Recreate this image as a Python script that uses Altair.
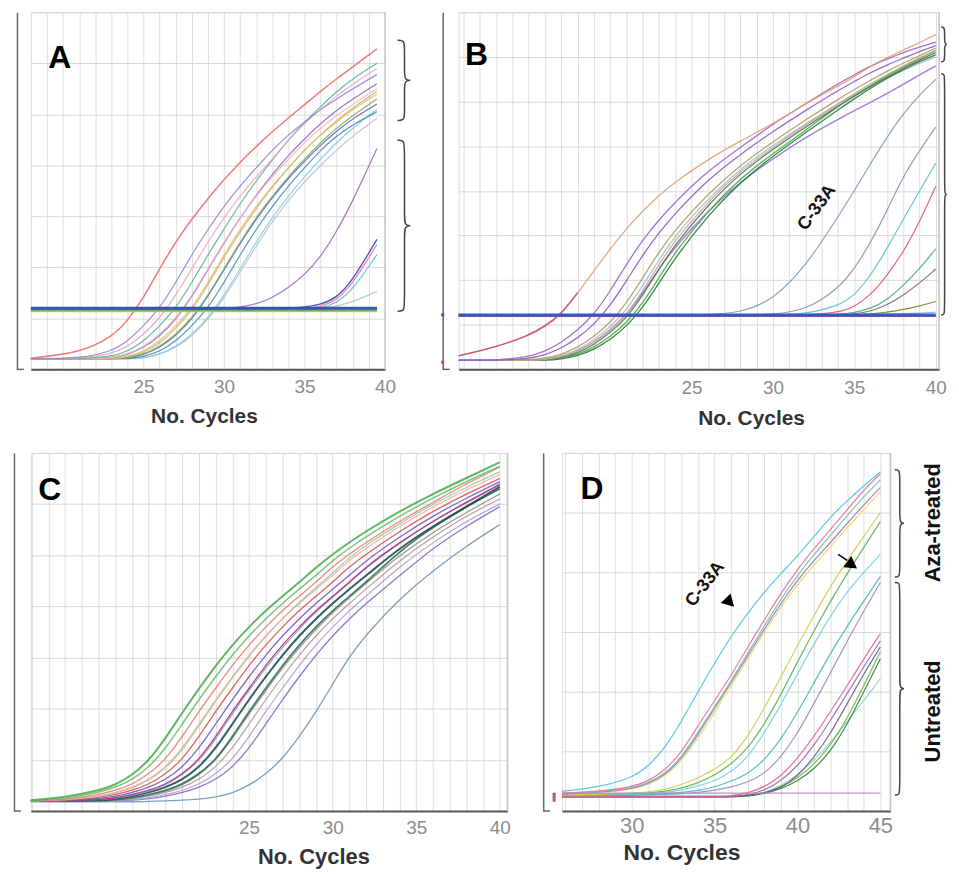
import altair as alt
import pandas as pd

FONT = "Liberation Sans"

# ---------------- Panel A ----------------
A_CYCLES = [18, 21, 23, 24, 25, 26, 27, 28, 29, 30, 31, 32, 33, 34, 35, 36, 37, 38, 39.5]
A_RED = [0.22, 0.32, 0.62, 0.95, 1.4, 1.98, 2.5, 2.95, 3.35, 3.72, 4.06, 4.37, 4.66, 4.93, 5.19, 5.45, 5.7, 5.93, 6.28]
A_E01 = [0.21, 0.21, 0.35, 0.55, 0.85, 1.2, 1.7, 2.25, 2.75, 3.2, 3.6, 3.95, 4.3, 4.6, 4.85, 5.1, 5.3, 5.5, 5.78]
A_E02 = [0.21, 0.21, 0.3, 0.44, 0.68, 1.0, 1.45, 1.97, 2.5, 2.98, 3.4, 3.78, 4.12, 4.5, 4.82, 5.1, 5.36, 5.6, 5.9]
A_E03 = [0.21, 0.21, 0.25, 0.35, 0.55, 0.85, 1.2, 1.7, 2.25, 2.75, 3.25, 3.7, 4.1, 4.5, 4.85, 5.15, 5.45, 5.7, 6.0]
A_E04 = [0.21, 0.21, 0.22, 0.3, 0.44, 0.68, 1.0, 1.45, 1.97, 2.5, 2.98, 3.4, 3.78, 4.12, 4.45, 4.73, 4.98, 5.2, 5.5]
A_E05 = [0.21, 0.21, 0.22, 0.29, 0.42, 0.65, 0.97, 1.42, 1.95, 2.48, 2.97, 3.42, 3.82, 4.2, 4.52, 4.82, 5.08, 5.3, 5.6]
A_E06 = [0.21, 0.21, 0.21, 0.25, 0.35, 0.55, 0.85, 1.2, 1.7, 2.25, 2.75, 3.2, 3.6, 3.95, 4.3, 4.6, 4.85, 5.1, 5.4]
A_E07 = [0.21, 0.21, 0.21, 0.24, 0.33, 0.5, 0.8, 1.15, 1.65, 2.2, 2.7, 3.15, 3.58, 3.95, 4.3, 4.6, 4.88, 5.13, 5.45]
A_E08 = [0.21, 0.21, 0.21, 0.22, 0.3, 0.44, 0.68, 1.0, 1.45, 1.97, 2.5, 2.98, 3.4, 3.78, 4.12, 4.45, 4.73, 4.98, 5.3]
A_E09 = [0.21, 0.21, 0.21, 0.22, 0.29, 0.42, 0.66, 0.98, 1.43, 1.95, 2.47, 2.95, 3.37, 3.75, 4.08, 4.4, 4.67, 4.92, 5.2]
A_E10 = [0.21, 0.21, 0.21, 0.21, 0.25, 0.35, 0.55, 0.85, 1.2, 1.7, 2.25, 2.75, 3.2, 3.6, 3.95, 4.3, 4.58, 4.8, 5.05]
A_E11 = [0.21, 0.21, 0.21, 0.21, 0.22, 0.3, 0.44, 0.68, 1.0, 1.45, 1.97, 2.5, 2.98, 3.4, 3.78, 4.12, 4.45, 4.73, 5.1]
A_E12 = [0.21, 0.21, 0.21, 0.21, 0.22, 0.29, 0.42, 0.65, 0.97, 1.4, 1.9, 2.42, 2.9, 3.32, 3.68, 4.0, 4.3, 4.58, 4.92]
A_L01 = [1.18, 1.18, 1.18, 1.18, 1.18, 1.18, 1.18, 1.18, 1.18, 1.18, 1.22, 1.28, 1.4, 1.6, 1.85, 2.2, 2.7, 3.3, 4.33]
A_L02 = [1.2, 1.2, 1.2, 1.2, 1.2, 1.2, 1.2, 1.2, 1.2, 1.2, 1.2, 1.2, 1.2, 1.2, 1.22, 1.27, 1.4, 1.75, 2.55]
A_L03 = [1.19, 1.19, 1.19, 1.19, 1.19, 1.19, 1.19, 1.19, 1.19, 1.19, 1.19, 1.19, 1.19, 1.19, 1.19, 1.23, 1.35, 1.68, 2.45]
A_L04 = [1.19, 1.19, 1.19, 1.19, 1.19, 1.19, 1.19, 1.19, 1.19, 1.19, 1.19, 1.19, 1.19, 1.19, 1.19, 1.19, 1.3, 1.56, 2.25]
A_L05 = [1.18, 1.18, 1.18, 1.18, 1.18, 1.18, 1.18, 1.18, 1.18, 1.18, 1.18, 1.18, 1.18, 1.18, 1.18, 1.18, 1.24, 1.32, 1.53]
A_F01 = [1.2] * 19
A_F02 = [1.16] * 19
A_F03 = [1.14] * 19

A_SERIES = [A_E12, A_E11, A_E10, A_E09, A_E08, A_E07, A_E06, A_E05, A_E04, A_E03, A_E02, A_E01, A_RED,
            A_L05, A_L04, A_L03, A_L02, A_L01]
A_COLORS = ["#c2b9e8", "#80d0dc", "#3f8eae", "#7058c4", "#68b860", "#e9a867", "#cfc56a", "#9966c6",
            "#efbcbc", "#4fb98a", "#f2a2c4", "#8d84dc", "#ef6b6b",
            "#a8d0a8", "#58b8e8", "#f07aa0", "#3848b8", "#a26cc0"]
A_WIDTHS = [1.2] * 12 + [1.5] + [1.2, 1.2, 1.3, 1.4, 1.3]
A_FLAT = [A_F03, A_F02, A_F01]
A_FLAT_COLORS = ["#d2c24a", "#6ab04c", "#2c4fb5"]
A_FLAT_WIDTHS = [2.0, 2.0, 3.0]
A_BRACE_TOP = [6.45, 4.49]
A_BRACE_BOTTOM = [4.88, 1.14]

# ---------------- Panel B ----------------
B_CYCLES = [10.7, 13, 15, 16, 17, 18, 19, 20, 21, 22, 23, 24, 26, 28, 30, 32, 34, 35, 36, 37, 38, 39, 40]
B_ORANGE = [0.31, 0.5, 0.75, 0.95, 1.22, 1.7, 2.2, 2.7, 3.15, 3.55, 3.9, 4.2, 4.7, 5.12, 5.5, 5.95, 6.35, 6.55, 6.8, 6.98, 7.15, 7.32, 7.5]
B_MAGENTA = [0.3, 0.5, 0.76, 0.97, 1.24, 1.72] + [None] * 17
B_P01 = [0.2, 0.2, 0.28, 0.4, 0.6, 0.88, 1.22, 1.75, 2.35, 2.9, 3.35, 3.75, 4.45, 4.97, 5.5, 5.95, 6.4, 6.6, 6.8, 6.95, 7.1, 7.22, 7.33]
B_P02 = [0.2, 0.2, 0.24, 0.32, 0.47, 0.7, 1.0, 1.42, 1.98, 2.56, 3.06, 3.5, 4.25, 4.82, 5.33, 5.8, 6.25, 6.45, 6.65, 6.82, 6.97, 7.12, 7.25]
B_OLIVE = [0.2, 0.2, 0.21, 0.25, 0.33, 0.49, 0.73, 1.04, 1.48, 2.05, 2.63, 3.13, 3.93, 4.58, 5.1, 5.59, 6.05, 6.27, 6.48, 6.68, 6.86, 7.03, 7.2]
B_TAN = [0.2, 0.2, 0.2, 0.22, 0.28, 0.4, 0.6, 0.88, 1.22, 1.75, 2.35, 2.9, 3.75, 4.45, 4.97, 5.47, 5.95, 6.18, 6.4, 6.6, 6.8, 6.98, 7.15]
B_GRAYGREEN = [0.2, 0.2, 0.2, 0.21, 0.26, 0.36, 0.55, 0.82, 1.15, 1.65, 2.25, 2.8, 3.68, 4.4, 4.93, 5.43, 5.9, 6.12, 6.34, 6.55, 6.75, 6.93, 7.1]
B_GREEN = [0.2, 0.2, 0.2, 0.21, 0.25, 0.33, 0.49, 0.73, 1.04, 1.48, 2.05, 2.63, 3.55, 4.28, 4.84, 5.35, 5.9, 6.13, 6.36, 6.58, 6.78, 6.97, 7.15]
B_DKGREEN = [0.2, 0.2, 0.2, 0.2, 0.23, 0.3, 0.44, 0.66, 0.96, 1.38, 1.93, 2.5, 3.45, 4.2, 4.78, 5.3, 5.82, 6.06, 6.3, 6.52, 6.72, 6.9, 7.05]
B_LTBLUE = [0.2, 0.2, 0.2, 0.23, 0.3, 0.43, 0.65, 0.95, 1.32, 1.87, 2.45, 3.0, 3.82, 4.5, 5.02, 5.5, 5.95, 6.15, 6.35, 6.53, 6.7, 6.86, 7.0]
B_P03 = [0.2, 0.2, 0.2, 0.22, 0.28, 0.4, 0.6, 0.88, 1.22, 1.7, 2.25, 2.75, 3.55, 4.2, 4.72, 5.2, 5.6, 5.8, 5.98, 6.18, 6.38, 6.6, 6.8]
B_C33A = [1.22] * 13 + [1.27, 1.55, 2.3, 3.42, 4.0, 4.62, 5.2, 5.73, 6.15, 6.5]
B_L02 = [1.22] * 13 + [1.22, 1.23, 1.32, 1.8, 2.25, 2.84, 3.55, 4.33, 4.9, 5.43]
B_L03 = [1.22] * 13 + [1.22, 1.22, 1.24, 1.42, 1.65, 2.1, 2.7, 3.36, 4.0, 4.62]
B_L04 = [1.21] * 13 + [1.21, 1.21, 1.22, 1.27, 1.4, 1.66, 2.1, 2.62, 3.3, 4.1]
B_L05 = [1.21] * 13 + [1.21, 1.21, 1.21, 1.23, 1.27, 1.36, 1.55, 1.88, 2.25, 2.7]
B_L06 = [1.21] * 13 + [1.21, 1.21, 1.21, 1.22, 1.24, 1.3, 1.44, 1.66, 1.93, 2.25]
B_L07 = [1.21] * 13 + [1.21, 1.21, 1.21, 1.21, 1.22, 1.24, 1.28, 1.34, 1.42, 1.52]
B_L08 = [1.22] * 13 + [1.22, 1.22, 1.22, 1.22, 1.22, 1.23, 1.24, 1.25, 1.26, 1.28]
B_F01 = [1.19] * 23
B_F02 = [1.22] * 23

B_SERIES = [B_P03, B_LTBLUE, B_DKGREEN, B_GREEN, B_GRAYGREEN, B_TAN, B_OLIVE, B_P02, B_P01, B_ORANGE, B_MAGENTA,
            B_L08, B_L07, B_L06, B_L05, B_L04, B_L03, B_L02, B_C33A]
B_COLORS = ["#9a6ad8", "#a8b8d8", "#1f7a3a", "#3cae3c", "#5f6f5f", "#bfae8e", "#a9a25e", "#8b5cc8", "#a060d0",
            "#e3a070", "#c8457a",
            "#86aee6", "#6f8a2a", "#7e5f7a", "#46a87c", "#e2507e", "#56c0d6", "#958fb0", "#7d9ab5"]
B_WIDTHS = [1.3] * 11 + [1.2] * 8
B_FLAT = [B_F01, B_F02]
B_FLAT_COLORS = ["#d23a6a", "#2a55c8"]
B_FLAT_WIDTHS = [1.5, 3.0]
B_BRACE_TOP = [7.67, 6.62]
B_BRACE_BOTTOM = [6.89, 1.22]
B_AXIS_MARK_VALUES = [1.22, 0.16]
B_AXIS_MARK_COLORS = ["#2a55c8", "#d23a6a"]

# ---------------- Panel C ----------------
C_CYCLES = [11.95, 14, 16, 17, 18, 19, 20, 21, 22, 23, 24, 25, 26, 27, 28, 29, 30, 31, 32, 34, 36, 38, 40]
C_01 = [0.21, 0.27, 0.4, 0.51, 0.7, 0.98, 1.42, 1.92, 2.39, 2.84, 3.25, 3.6, 3.92, 4.2, 4.47, 4.76, 5.02, 5.25, 5.47, 5.86, 6.2, 6.51, 6.82]
C_02 = [0.2, 0.24, 0.36, 0.46, 0.61, 0.85, 1.22, 1.7, 2.18, 2.63, 3.05, 3.43, 3.76, 4.06, 4.34, 4.6, 4.9, 5.14, 5.36, 5.77, 6.12, 6.44, 6.74]
C_03 = [0.2, 0.22, 0.32, 0.4, 0.52, 0.72, 1.0, 1.45, 1.95, 2.4, 2.85, 3.25, 3.6, 3.92, 4.2, 4.47, 4.78, 5.02, 5.25, 5.67, 6.03, 6.4, 6.72]
C_04 = [0.2, 0.21, 0.29, 0.36, 0.46, 0.61, 0.85, 1.22, 1.7, 2.18, 2.63, 3.05, 3.43, 3.76, 4.06, 4.34, 4.6, 4.9, 5.14, 5.57, 5.95, 6.28, 6.58]
C_05 = [0.2, 0.21, 0.28, 0.35, 0.45, 0.6, 0.83, 1.18, 1.66, 2.15, 2.6, 3.03, 3.42, 3.77, 4.08, 4.37, 4.65, 4.95, 5.2, 5.62, 6.0, 6.33, 6.63]
C_06 = [0.2, 0.2, 0.26, 0.32, 0.4, 0.52, 0.72, 1.0, 1.45, 1.95, 2.4, 2.85, 3.25, 3.6, 3.92, 4.2, 4.47, 4.78, 5.02, 5.47, 5.86, 6.2, 6.5]
C_07 = [0.2, 0.2, 0.24, 0.29, 0.36, 0.46, 0.61, 0.85, 1.22, 1.7, 2.18, 2.63, 3.05, 3.43, 3.76, 4.06, 4.34, 4.6, 4.9, 5.36, 5.77, 6.12, 6.44]
C_08 = [0.2, 0.2, 0.22, 0.26, 0.32, 0.4, 0.52, 0.72, 1.0, 1.45, 1.95, 2.4, 2.85, 3.25, 3.6, 3.92, 4.2, 4.47, 4.78, 5.25, 5.67, 6.03, 6.38]
C_09 = [0.2, 0.2, 0.22, 0.25, 0.3, 0.38, 0.5, 0.7, 0.97, 1.4, 1.9, 2.36, 2.8, 3.2, 3.56, 3.9, 4.18, 4.46, 4.76, 5.24, 5.67, 6.04, 6.4]
C_10 = [0.2, 0.2, 0.21, 0.24, 0.29, 0.36, 0.46, 0.61, 0.85, 1.22, 1.7, 2.18, 2.63, 3.05, 3.43, 3.76, 4.06, 4.34, 4.6, 5.14, 5.57, 5.95, 6.34]
C_11 = [0.2, 0.2, 0.2, 0.22, 0.26, 0.32, 0.4, 0.52, 0.72, 1.0, 1.45, 1.95, 2.4, 2.85, 3.25, 3.6, 3.92, 4.2, 4.47, 5.08, 5.55, 5.95, 6.3]
C_12 = [0.2, 0.2, 0.2, 0.21, 0.24, 0.3, 0.38, 0.5, 0.7, 0.98, 1.42, 1.9, 2.35, 2.8, 3.2, 3.55, 3.88, 4.17, 4.45, 5.0, 5.45, 5.84, 6.2]
C_13 = [0.2, 0.2, 0.2, 0.21, 0.24, 0.29, 0.36, 0.46, 0.61, 0.85, 1.22, 1.7, 2.18, 2.63, 3.05, 3.43, 3.76, 4.06, 4.34, 4.9, 5.36, 5.77, 6.1]
C_14 = [0.2, 0.2, 0.2, 0.2, 0.22, 0.26, 0.32, 0.4, 0.52, 0.72, 1.0, 1.45, 1.95, 2.4, 2.85, 3.25, 3.6, 3.92, 4.2, 4.78, 5.25, 5.67, 6.0]
C_15 = [0.2, 0.2, 0.2, 0.2, 0.21, 0.24, 0.29, 0.36, 0.46, 0.61, 0.85, 1.22, 1.7, 2.18, 2.63, 3.05, 3.43, 3.76, 4.06, 4.6, 5.14, 5.57, 5.95]
C_16 = [0.18, 0.18, 0.18, 0.18, 0.18, 0.19, 0.2, 0.21, 0.23, 0.27, 0.35, 0.5, 0.72, 1.02, 1.45, 1.93, 2.48, 3.02, 3.45, 4.15, 4.7, 5.18, 5.6]

C_SERIES = [C_16, C_15, C_14, C_13, C_12, C_11, C_10, C_09, C_08, C_07, C_06, C_05, C_04, C_03, C_02, C_01]
C_COLORS = ["#6f95b5", "#7d6bc8", "#a89ad8", "#b49494", "#8a8a8a", "#2e6b4e", "#1f4f4f", "#8a9ae0",
            "#b03070", "#6a5acd", "#e05050", "#8fd08f", "#f5a8a8", "#f07878", "#6cc070", "#4caf50"]
C_WIDTHS = [1.3, 1.3, 1.2, 1.2, 1.2, 1.6, 2.0, 1.2, 1.3, 1.3, 1.3, 1.2, 1.2, 1.3, 1.5, 2.0]

# ---------------- Panel D ----------------
D_CYCLES = [25.8, 28, 30, 31, 32, 33, 34, 35, 36, 37, 38, 39, 40, 41, 42, 43, 44, 45]
D_01 = [0.33, 0.4, 0.55, 0.75, 1.05, 1.5, 2.0, 2.48, 2.93, 3.32, 3.67, 3.98, 4.27, 4.6, 4.93, 5.2, 5.45, 5.68]
D_02 = [0.3, 0.33, 0.4, 0.5, 0.68, 0.98, 1.43, 1.85, 2.27, 2.75, 3.2, 3.65, 4.05, 4.4, 4.72, 5.05, 5.38, 5.65]
D_03 = [0.3, 0.32, 0.38, 0.47, 0.62, 0.9, 1.32, 1.75, 2.18, 2.65, 3.1, 3.55, 3.95, 4.3, 4.62, 4.95, 5.27, 5.55]
D_04 = [0.28, 0.31, 0.37, 0.46, 0.6, 0.87, 1.28, 1.72, 2.15, 2.6, 3.05, 3.48, 3.87, 4.2, 4.5, 4.82, 5.13, 5.42]
D_05 = [0.28, 0.3, 0.36, 0.44, 0.58, 0.83, 1.22, 1.65, 2.1, 2.55, 3.0, 3.42, 3.8, 4.12, 4.43, 4.75, 5.05, 5.35]
D_06 = [0.27, 0.28, 0.3, 0.32, 0.36, 0.44, 0.55, 0.7, 0.88, 1.25, 1.72, 2.25, 2.77, 3.28, 3.77, 4.2, 4.6, 5.0]
D_07 = [0.27, 0.28, 0.29, 0.3, 0.33, 0.38, 0.47, 0.6, 0.78, 1.05, 1.45, 1.95, 2.5, 3.02, 3.52, 3.98, 4.42, 4.85]
D_08 = [0.26, 0.27, 0.28, 0.29, 0.31, 0.35, 0.42, 0.5, 0.65, 0.9, 1.3, 1.78, 2.3, 2.8, 3.28, 3.68, 4.0, 4.3]
D_09 = [0.26, 0.27, 0.27, 0.28, 0.29, 0.31, 0.34, 0.4, 0.5, 0.62, 0.85, 1.2, 1.65, 2.15, 2.65, 3.1, 3.52, 3.93]
D_10 = [0.25, 0.26, 0.26, 0.27, 0.28, 0.29, 0.31, 0.35, 0.4, 0.48, 0.62, 0.9, 1.3, 1.8, 2.32, 2.85, 3.35, 3.83]
D_11 = [0.25] * 9 + [0.3, 0.4, 0.58, 0.88, 1.25, 1.67, 2.1, 2.55, 2.97]
D_12 = [0.24] * 9 + [0.27, 0.34, 0.5, 0.75, 1.1, 1.52, 1.97, 2.42, 2.85]
D_13 = [0.24] * 9 + [0.26, 0.3, 0.4, 0.55, 0.78, 1.1, 1.55, 2.1, 2.67]
D_14 = [0.24] * 9 + [0.25, 0.29, 0.37, 0.5, 0.7, 1.0, 1.45, 2.0, 2.55]
D_15 = [0.23] * 9 + [0.25, 0.3, 0.42, 0.6, 0.85, 1.15, 1.5, 1.85, 2.22]
D_16 = [0.24] * 9 + [0.26, 0.3, 0.38, 0.58, 0.9, 1.3, 1.8, 2.3, 2.75]
D_FLAT_01 = [0.3] * 18

D_SERIES = [D_15, D_14, D_13, D_16, D_12, D_11, D_10, D_09, D_08, D_07, D_06, D_05, D_04, D_03, D_02, D_01]
D_COLORS = ["#8ad0c8", "#2e7d32", "#66bb3a", "#6a5a7a", "#8a6ab8", "#f05a90", "#9a88c0", "#45b8b0",
            "#78cde8", "#52b452", "#c8d048", "#f0d860", "#9a70c8", "#6cc8a0", "#f06aa0", "#45c3e3"]
D_WIDTHS = [1.2] * 16
D_FLAT = [D_FLAT_01]
D_FLAT_COLORS = ["#b48ac8"]
D_FLAT_WIDTHS = [1.5]
D_BRACE_TOP = [5.72, 3.83]
D_BRACE_BOTTOM = [3.92, 0.27]
D_GROUP_LABELS = ["Aza-treated", "Untreated"]
D_GROUP_LABEL_VALUES = [4.83, 1.67]
D_AXIS_MARK_VALUES = [0.28, 0.23, 0.18]
D_AXIS_MARK_COLORS = ["#c04070", "#8a5aa0", "#d05060"]


def curve_frame(cycles, series, colors, widths):
    rows = []
    for k, (vals, col, w) in enumerate(zip(series, colors, widths)):
        for c, v in zip(cycles, vals):
            if v is not None:
                rows.append({"id": f"s{k:02d}", "cycle": c, "value": v, "col": col, "sw": w})
    return pd.DataFrame(rows)


def brace_frame(xl, xm, xt, tops, bottoms, r):
    rows = []
    for b, (yt, yb) in enumerate(zip(tops, bottoms)):
        ym = (yt + yb) / 2
        xs = [xl, xm, xm, xm, xm, xt, xm, xm, xm, xm, xl]
        ys = [yt, yt, yt - r, ym + r, ym, ym, ym, ym - r, yb + r, yb, yb]
        for k, (x, y) in enumerate(zip(xs, ys)):
            rows.append({"bid": b, "k": k, "cycle": x, "value": y})
    return pd.DataFrame(rows)


def panel(cycles, series, colors, widths, flat, flat_colors, flat_widths,
          xdom, ydom, w, h, yoff, label_size, label_pad, title_size, title_x, title_y,
          letter, letter_xy, extras, left_extent=None):
    lab_expr = "datum.value >= %d && datum.value %% 5 == 0 ? datum.label : ''" % (25 if xdom[1] < 42 else 30)
    X = alt.X("cycle:Q", scale=alt.Scale(domain=xdom, nice=False, zero=False),
              axis=alt.Axis(values=list(range(int(xdom[0]) + 1, int(xdom[1]) + 1)), labelExpr=lab_expr,
                            grid=True, gridColor="#dedede", gridWidth=1, ticks=False, tickSize=0,
                            domainColor="#555555", domainWidth=2, labelColor="#8c8c8c",
                            labelFont=FONT, labelFontSize=label_size, labelPadding=label_pad,
                            labelBaseline="middle", labelFlush=False,
                            title="No. Cycles", titleFont=FONT, titleFontSize=title_size,
                            titleFontWeight="bold", titleColor="#333333", titleX=title_x, titleY=title_y,
                            titleBaseline="middle", titleAnchor="middle", titleAlign="center"))
    Y = alt.Y("value:Q", scale=alt.Scale(domain=ydom, nice=False, zero=False),
              axis=alt.Axis(values=list(range(int(ydom[0]), int(ydom[1]) + 1)), labels=False, ticks=False,
                            grid=True, gridColor="#d8d8d8", domainColor="#666666", domainWidth=1.5,
                            offset=yoff, title=None))
    df = curve_frame(cycles, series, colors, widths)
    border = alt.Chart(pd.DataFrame({"a": [0]})).mark_rule(color="#c4c4c4", strokeWidth=1.5).encode(
        x=alt.value(w), y=alt.value(0), y2=alt.value(h))
    foot = alt.Chart(pd.DataFrame({"a": [0]})).mark_rule(color="#666666", strokeWidth=1.5).encode(
        x=alt.value(-yoff), x2=alt.value(-yoff + 7), y=alt.value(h))
    lines = alt.Chart(df).mark_line(interpolate="basis", opacity=0.9).encode(
        x=X, y=Y, detail="id:N",
        color=alt.Color("col:N", scale=None),
        strokeWidth=alt.StrokeWidth("sw:Q", scale=None))
    layers = [border, lines]
    if left_extent is not None:
        layers.append(alt.Chart(pd.DataFrame({"a": [0]})).mark_rule(strokeOpacity=0, strokeWidth=1).encode(
            x=alt.value(-left_extent), y=alt.value(h - 2), y2=alt.value(h)))
    if flat:
        fdf = curve_frame(cycles, flat, flat_colors, flat_widths)
        layers.append(alt.Chart(fdf).mark_line(opacity=0.95).encode(
            x=X, y=Y, detail="id:N",
            color=alt.Color("col:N", scale=None),
            strokeWidth=alt.StrokeWidth("sw:Q", scale=None)))
    for e in extras:
        layers.append(e(X, Y))
    layers.append(foot)
    layers.append(alt.Chart(pd.DataFrame({"t": [letter]})).mark_text(
        font=FONT, fontSize=32, fontWeight="bold", color="#000000", align="center", baseline="middle").encode(
        x=alt.value(letter_xy[0]), y=alt.value(letter_xy[1]), text="t:N"))
    return alt.layer(*layers).properties(width=w, height=h)


def brace_layer(xl, xm, xt, tops, bottoms, r):
    def f(X, Y):
        return alt.Chart(brace_frame(xl, xm, xt, tops, bottoms, r)).mark_line(
            interpolate="basis", color="#444444", strokeWidth=1.5).encode(
            x=X, y=Y, detail="bid:N", order="k:Q")
    return f


def label_layer(cycle, value, text, angle, size=18):
    def f(X, Y):
        return alt.Chart(pd.DataFrame({"cycle": [cycle], "value": [value], "t": [text]})).mark_text(
            font=FONT, fontSize=size, fontWeight="bold", color="#111111", angle=angle,
            align="center", baseline="middle").encode(x=X, y=Y, text="t:N")
    return f


def group_labels_layer(cycle, values, texts):
    def f(X, Y):
        return alt.Chart(pd.DataFrame({"cycle": [cycle] * len(values), "value": values, "t": texts})).mark_text(
            font=FONT, fontSize=22, fontWeight="bold", color="#111111", angle=270,
            align="center", baseline="middle").encode(x=X, y=Y, text="t:N")
    return f


def axis_marks_layer(xoff, values, colors):
    def f(X, Y):
        return alt.Chart(pd.DataFrame({"value": values, "col": colors})).mark_square(
            size=9, opacity=1).encode(x=alt.value(xoff), y=Y, color=alt.Color("col:N", scale=None))
    return f


def triangles_layer():
    def f(X, Y):
        tri = pd.DataFrame({"cycle": [35.87, 43.3], "value": [3.55, 4.12],
                            "shape": ["triangle-up", "triangle-right"], "ang": [15, 35]})
        stem = pd.DataFrame({"cycle": [42.45, 43.0], "value": [4.3, 4.2]})
        pts = alt.Chart(tri).mark_point(filled=True, color="#000000", size=190, opacity=1).encode(
            x=X, y=Y, shape=alt.Shape("shape:N", scale=None), angle=alt.Angle("ang:Q", scale=None))
        ln = alt.Chart(stem).mark_line(color="#000000", strokeWidth=1.5).encode(x=X, y=Y)
        return alt.layer(pts, ln)
    return f


A = panel(A_CYCLES, A_SERIES, A_COLORS, A_WIDTHS, A_FLAT, A_FLAT_COLORS, A_FLAT_WIDTHS,
          [18, 40], [0, 7], 356, 359, 14, 19, 17, 21, 174, 47, "A", (29, 46),
          [brace_layer(40.78, 41.21, 41.75, A_BRACE_TOP, A_BRACE_BOTTOM, 0.17)], left_extent=17)
B = panel(B_CYCLES, B_SERIES, B_COLORS, B_WIDTHS, B_FLAT, B_FLAT_COLORS, B_FLAT_WIDTHS,
          [10.7, 40.2], [0, 8], 483, 359, 16, 19, 18, 21, 294, 49, "B", (18, 43),
          [brace_layer(40.33, 40.54, 40.74, B_BRACE_TOP, B_BRACE_BOTTOM, 0.18),
           label_layer(32.7, 3.62, "C-33A", 306),
           axis_marks_layer(-16, B_AXIS_MARK_VALUES, B_AXIS_MARK_COLORS)])
C = panel(C_CYCLES, C_SERIES, C_COLORS, C_WIDTHS, [], [], [],
          [11.95, 40.45], [0, 7], 479, 360, 17, 19, 17, 22, 284, 46, "C", (19, 37), [])
D = panel(D_CYCLES, D_SERIES, D_COLORS, D_WIDTHS, D_FLAT, D_FLAT_COLORS, D_FLAT_WIDTHS,
          [25.8, 45.6], [0, 6], 330, 360, 19, 22, 15, 23, 120, 42, "D", (30, 36),
          [brace_layer(45.87, 46.17, 46.55, D_BRACE_TOP, D_BRACE_BOTTOM, 0.14),
           group_labels_layer(48.2, D_GROUP_LABEL_VALUES, D_GROUP_LABELS),
           label_layer(34.43, 3.8, "C-33A", 308),
           triangles_layer(),
           axis_marks_layer(-8, D_AXIS_MARK_VALUES, D_AXIS_MARK_COLORS)])

row1 = alt.hconcat(A, B, spacing=74, bounds="flush")
row2 = alt.hconcat(C, D, spacing=55, bounds="flush")
chart = alt.vconcat(row1, row2, spacing=22).properties(
    padding={"left": 4, "top": 0, "right": 0, "bottom": 0}
).configure_view(stroke=None).configure(background="#ffffff")

chart.save("out.html", embed_options={"renderer": "svg", "actions": False})
